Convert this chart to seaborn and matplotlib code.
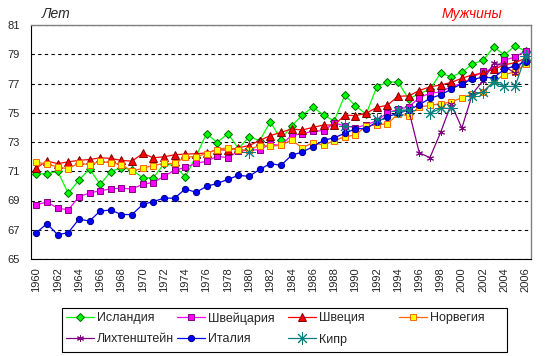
import numpy as np
import matplotlib
matplotlib.use('Agg')
import matplotlib.pyplot as plt
from matplotlib.lines import Line2D
from matplotlib.patches import Rectangle
import seaborn as sns
import pandas as pd

nan = np.nan
years = list(range(1960, 2007))

iceland = [70.82, 70.82, 71.0, 69.5, 70.38, 71.16, 70.1, 70.98, 71.25, 71.1,
           70.55, 70.55, 71.5, 71.4, 70.6, 72.0, 73.58, 72.96, 73.58, 72.55,
           73.35, 73.1, 74.38, 73.17, 74.1, 74.84, 75.39, 74.84, 74.44, 76.2,
           75.48, 74.9, 76.77, 77.1, 77.1, 75.95, 76.3, 76.6, 77.7, 77.46,
           77.77, 78.33, 78.59, 79.5, 78.95, 79.58, 79.2]
switzerland = [68.7, 68.9, 68.48, 68.36, 69.25, 69.52, 69.66, 69.8, 69.84, 69.79,
               70.11, 70.23, 70.66, 71.07, 71.26, 71.54, 71.68, 72.02, 71.93, 72.37,
               72.44, 72.48, 72.85, 72.77, 73.47, 73.54, 73.75, 73.77, 74.3, 74.1,
               73.98, 74.16, 74.46, 75.0, 75.23, 75.4, 76.03, 76.34, 76.41, 76.8,
               77.0, 77.4, 77.85, 78.0, 78.61, 78.8, 79.25]
sweden = [71.23, 71.7, 71.52, 71.64, 71.75, 71.8, 71.92, 71.88, 71.74, 71.69,
          72.22, 71.92, 71.99, 72.13, 72.17, 72.2, 72.25, 72.48, 72.44, 72.6,
          72.76, 73.1, 73.44, 73.66, 73.89, 73.82, 74.0, 74.16, 74.16, 74.84,
          74.8, 74.96, 75.37, 75.51, 76.13, 76.15, 76.52, 76.77, 76.9, 77.07,
          77.36, 77.59, 77.7, 77.98, 78.27, 78.43, 78.73]
norway = [71.62, 71.48, 71.3, 71.16, 71.57, 71.43, 71.68, 71.58, 71.46, 71.0,
          71.21, 71.39, 71.53, 71.53, 71.97, 72.0, 72.21, 72.48, 72.62, 72.44,
          72.48, 72.76, 72.7, 72.79, 73.13, 72.6, 72.95, 72.79, 73.09, 73.36,
          73.48, 74.1, 74.16, 74.25, 74.9, 74.8, 75.4, 75.5, 75.62, 75.72,
          76.03, 76.27, 76.43, 77.14, 77.6, 77.8, 78.3]
liechtenstein = [nan] * 35 + [75.2, 72.26, 71.93, 73.65, 75.6, 73.95, 76.3,
                              77.2, 78.4, 78.2, 77.7, 78.9]
italy = [66.8, 67.42, 66.66, 66.8, 67.72, 67.6, 68.28, 68.35, 68.04, 68.04,
         68.73, 68.93, 69.16, 69.16, 69.79, 69.56, 69.96, 70.17, 70.44, 70.72,
         70.65, 71.13, 71.52, 71.4, 72.1, 72.31, 72.68, 73.11, 73.29, 73.59,
         73.91, 73.91, 74.37, 74.73, 74.96, 75.19, 75.55, 75.98, 76.23, 76.6,
         77.0, 77.3, 77.41, 77.4, 77.98, 78.2, 78.5]
cyprus = ([nan] * 20 + [72.35] + [nan] * 8 + [74.1, nan, nan, 74.55, nan,
          75.15, 75.2, nan, 74.95, 75.3, 75.3, nan, 76.15, 76.45, 77.1,
          76.8, 76.8, 78.9])

countries = ['Исландия', 'Швейцария', 'Швеция', 'Норвегия',
             'Лихтенштейн', 'Италия', 'Кипр']
values = [iceland, switzerland, sweden, norway, liechtenstein, italy, cyprus]

# line colour, marker, size, face, edge
styles = {
    'Исландия': ('#00FF00', 'D', 4.5, '#00FF00', '#006400'),
    'Швейцария': ('#FF00FF', 's', 5, '#FF00FF', '#800080'),
    'Швеция': ('#FF0000', '^', 5.5, '#FF0000', '#800000'),
    'Норвегия': ('#FF6600', 's', 5, '#FFFF00', '#FF6600'),
    'Лихтенштейн': ('#800080', (6, 2, 0), 5, '#800080', '#800080'),
    'Италия': ('#0000FF', 'o', 4.5, '#0000FF', '#000080'),
    'Кипр': ('#008080', (8, 2, 0), 9, '#008080', '#008080'),
}

sns.set_theme(style='white')
plt.rcParams['font.family'] = ['Liberation Sans', 'DejaVu Sans']

W, H = 546, 356
fig = plt.figure(figsize=(W / 100, H / 100), dpi=100)
ax = fig.add_axes([31 / W, 1 - 259 / H, 500 / W, 234 / H])

handles = []
for name, vals in zip(countries, values):
    df = pd.DataFrame({'year': years, 'value': vals})
    df['seg'] = df['value'].isna().cumsum()
    df = df.dropna()
    c, m, ms, fc, ec = styles[name]
    sns.lineplot(data=df, x='year', y='value', units='seg', estimator=None,
                 color=c, lw=0.9, marker=m, markersize=ms, markerfacecolor=fc,
                 markeredgecolor=ec, markeredgewidth=0.7, ax=ax, legend=False)
    handles.append(Line2D([], [], color=c, lw=0.9, marker=m, markersize=ms,
                          markerfacecolor=fc, markeredgecolor=ec,
                          markeredgewidth=0.7))

ax.set_xlim(1959.5, 2006.5)
ax.set_ylim(65, 81)
ax.set_xticks(range(1960, 2007, 2))
ax.set_xticklabels([str(y) for y in range(1960, 2007, 2)], rotation=90, fontsize=8)
ax.set_yticks(range(65, 82, 2))
ax.set_yticklabels([str(v) for v in range(65, 82, 2)], fontsize=8)
ax.set_xlabel('')
ax.set_ylabel('')
ax.tick_params(axis='x', length=3, width=0.8, pad=3, color='black')
ax.tick_params(axis='y', length=0, pad=8)
ax.yaxis.grid(True, color='black', linestyle=(0, (3, 3)), lw=0.8)
ax.xaxis.grid(False)
ax.set_axisbelow(True)
for s in ['left', 'bottom']:
    ax.spines[s].set_color('black')
    ax.spines[s].set_linewidth(0.8)
for s in ['top', 'right']:
    ax.spines[s].set_color('#808080')
    ax.spines[s].set_linewidth(1)

fig.text(42 / W, 1 - 14 / H, 'Лет', fontsize=10, style='italic', va='center')
fig.text(442 / W, 1 - 14 / H, 'Мужчины', fontsize=10, style='italic',
         color='red', va='center')

# legend: Excel-style grid of equal-width cells, 4 per row
col_x = [66, 177, 288, 399]
row_y = [318.5, 339.5]
for i, name in enumerate(countries):
    x = col_x[i % 4]
    y = row_y[i // 4]
    fig.legend([handles[i]], [name], loc='center left',
               bbox_to_anchor=(x / W, 1 - y / H), fontsize=9, frameon=False,
               handlelength=2.2, handletextpad=0.3, borderpad=0,
               borderaxespad=0)
fig.add_artist(Rectangle((61.5 / W, 1 - 351.5 / H), 445 / W, 44 / H,
                         transform=fig.transFigure, fill=False,
                         edgecolor='black', lw=0.8))

fig.savefig('out.png', dpi=100)
